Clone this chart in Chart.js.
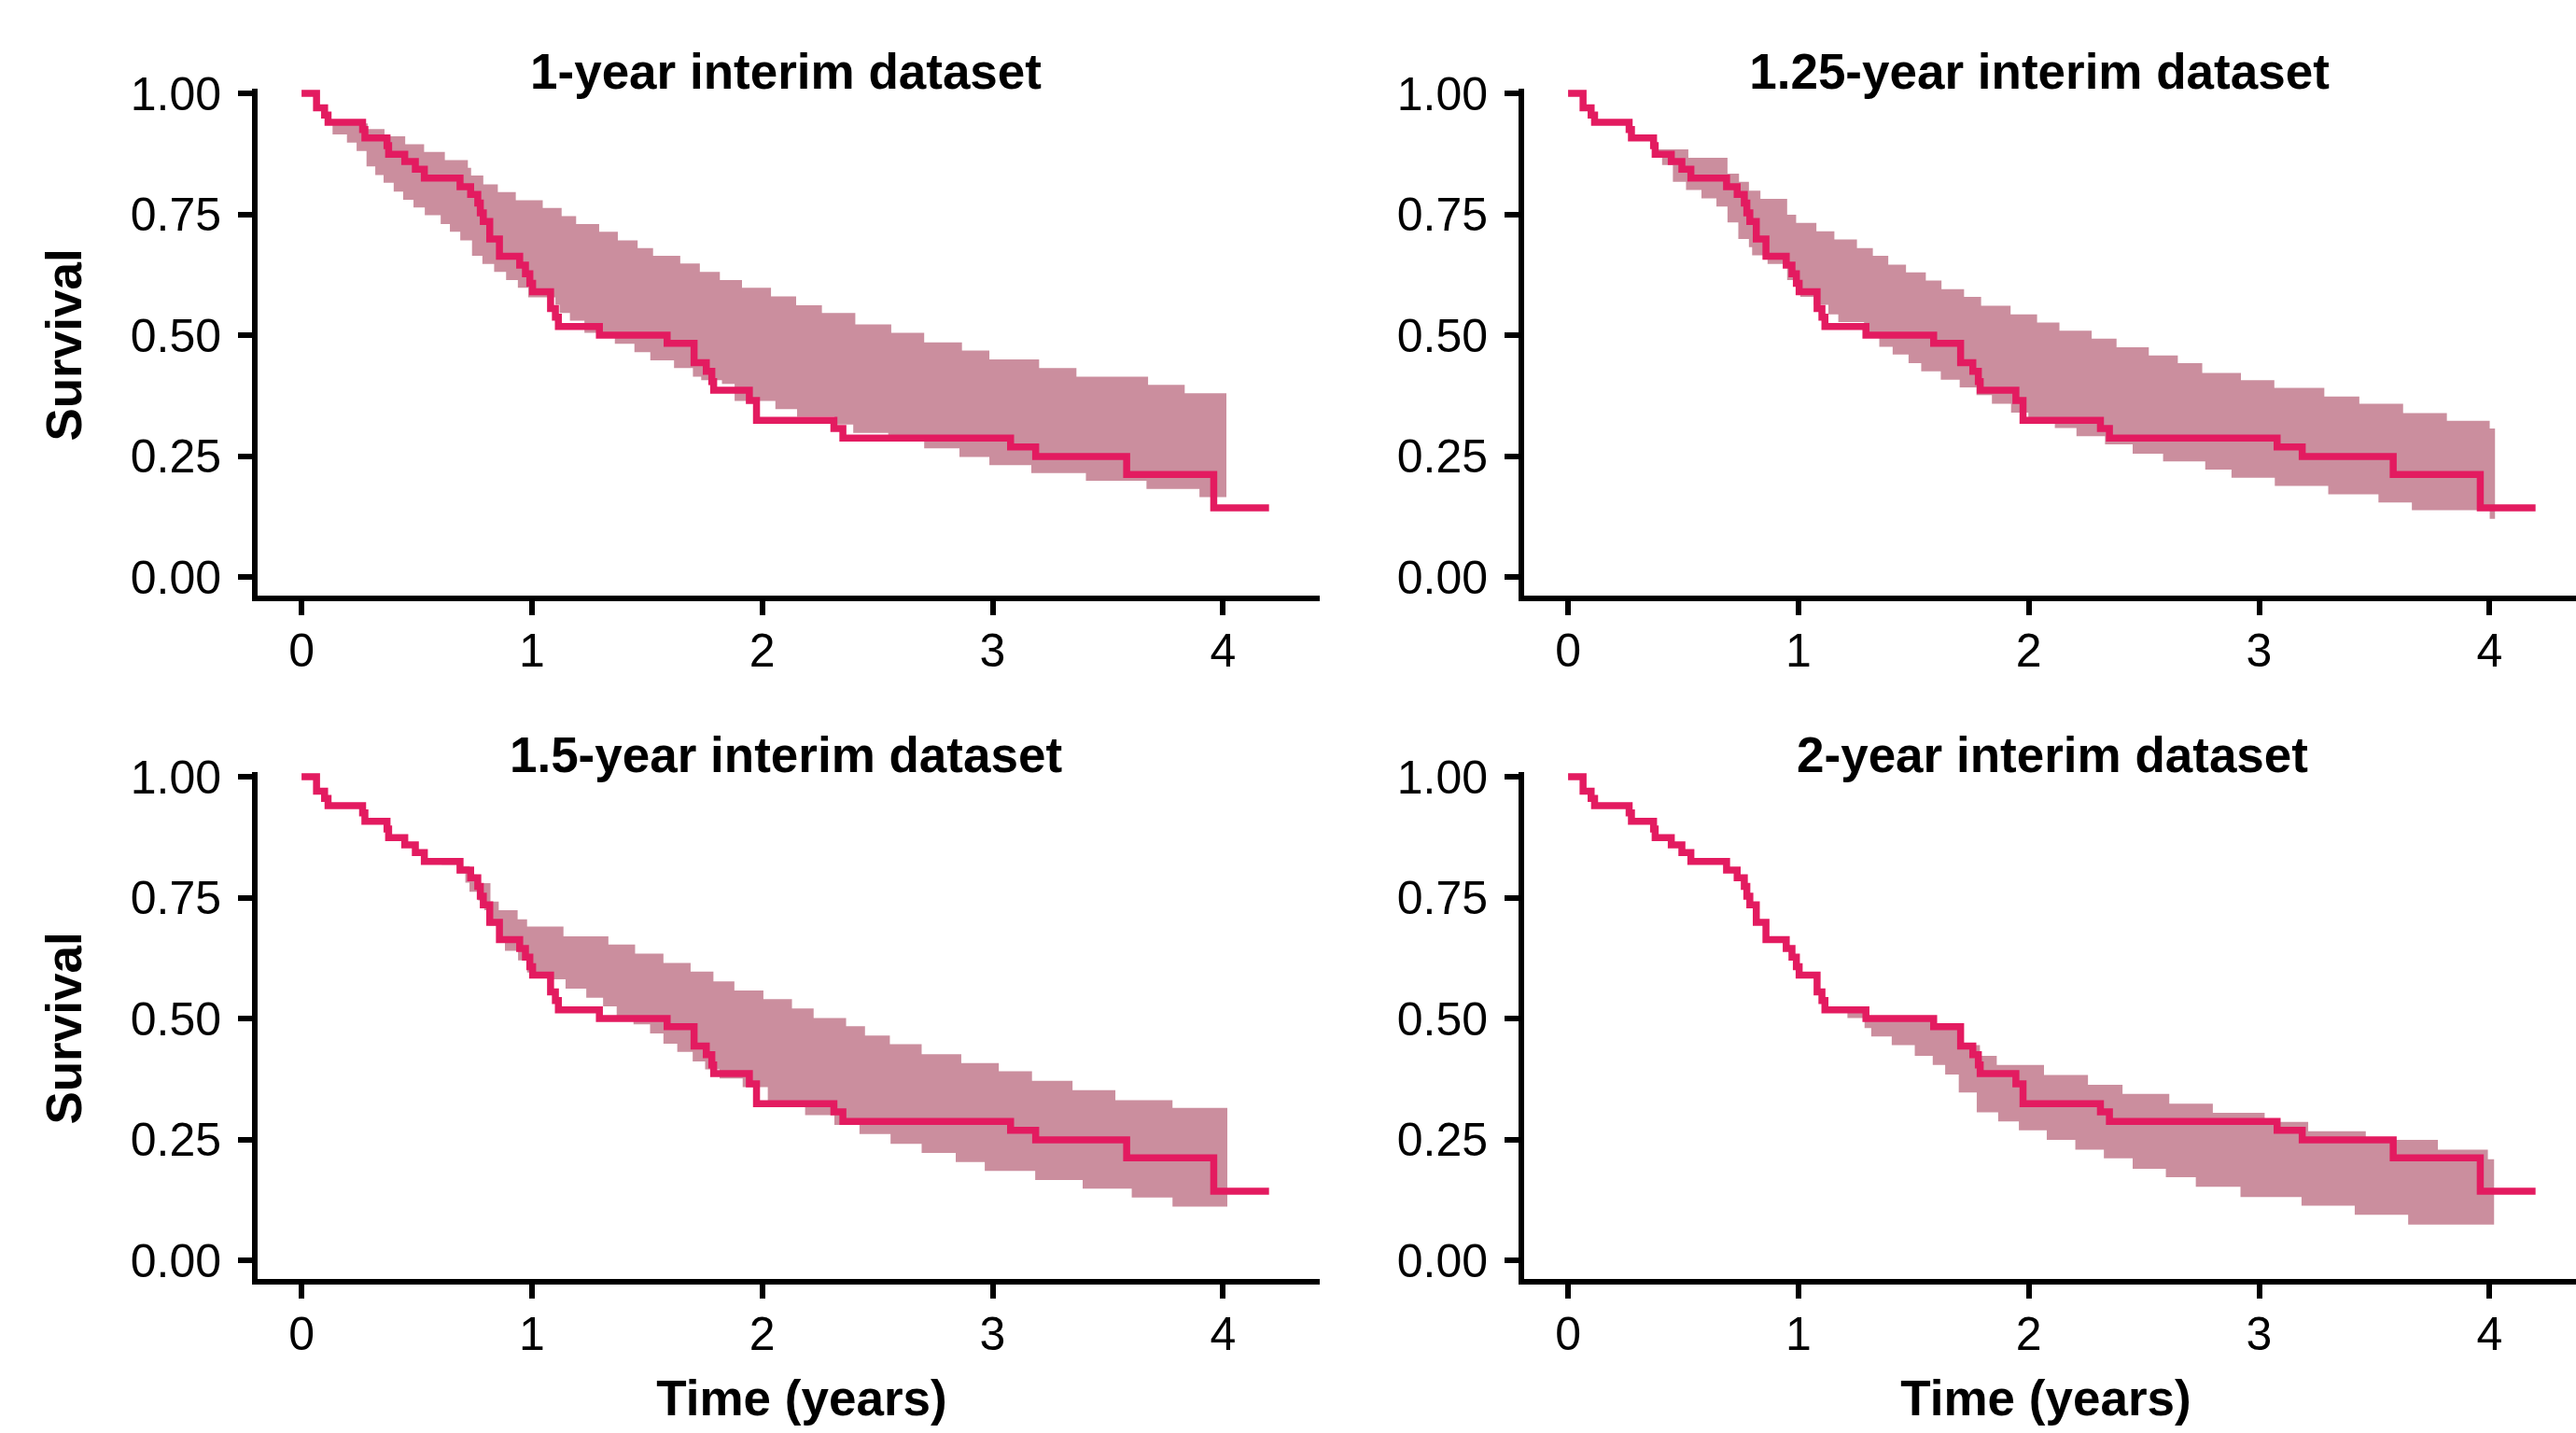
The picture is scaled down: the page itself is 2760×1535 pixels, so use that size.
<!DOCTYPE html>
<html>
<head>
<meta charset="utf-8">
<script src="https://cdn.jsdelivr.net/npm/chart.js"></script>
<style>
html,body{margin:0;padding:0;background:#ffffff;overflow:hidden;width:2760px;height:1535px;}
canvas{position:absolute;}
</style>
</head>
<body>
<canvas id="c0"></canvas>
<canvas id="c1"></canvas>
<canvas id="c2"></canvas>
<canvas id="c3"></canvas>
<script>
// ---------------- DATA ----------------
const panelTitles = ["1-year interim dataset", "1.25-year interim dataset", "1.5-year interim dataset", "2-year interim dataset"];
const xTicks = [0, 1, 2, 3, 4];
const yTicks = [0, 0.25, 0.5, 0.75, 1];
const xAxisTitle = "Time (years)";
const yAxisTitle = "Survival";

// observed Kaplan-Meier curve (same in every panel)
const kmTime = [0, 0.065, 0.10, 0.115, 0.265, 0.275, 0.371, 0.378, 0.448, 0.494, 0.533, 0.688, 0.734, 0.765, 0.776, 0.789, 0.817, 0.859, 0.947, 0.972, 0.991, 1.003, 1.081, 1.102, 1.115, 1.293, 1.587, 1.704, 1.757, 1.781, 1.789, 1.944, 1.975, 2.311, 2.35, 3.078, 3.187, 3.582, 3.96, 4.2];
const kmSurv = [1.0, 0.97, 0.955, 0.94, 0.925, 0.908, 0.892, 0.874, 0.859, 0.843, 0.825, 0.807, 0.791, 0.773, 0.753, 0.735, 0.699, 0.663, 0.645, 0.627, 0.607, 0.590, 0.555, 0.537, 0.518, 0.500, 0.483, 0.443, 0.425, 0.404, 0.386, 0.365, 0.324, 0.307, 0.287, 0.269, 0.249, 0.212, 0.143, 0.143];

// prediction bands: upper / lower step functions
const p1UpT = [0.134, 0.287, 0.36, 0.45, 0.532, 0.622, 0.722, 0.736, 0.789, 0.852, 0.930, 1.047, 1.129, 1.192, 1.292, 1.373, 1.459, 1.526, 1.644, 1.729, 1.816, 1.912, 2.038, 2.147, 2.259, 2.404, 2.560, 2.703, 2.867, 2.986, 3.202, 3.364, 3.675, 3.834, 4.015];
const p1UpS = [0.938, 0.926, 0.911, 0.895, 0.879, 0.862, 0.846, 0.830, 0.812, 0.796, 0.779, 0.763, 0.746, 0.730, 0.714, 0.696, 0.680, 0.664, 0.648, 0.631, 0.614, 0.598, 0.580, 0.562, 0.546, 0.522, 0.505, 0.485, 0.468, 0.450, 0.432, 0.414, 0.397, 0.380, 0.380];
const p1LoT = [0.134, 0.197, 0.239, 0.282, 0.320, 0.356, 0.400, 0.441, 0.486, 0.535, 0.604, 0.644, 0.689, 0.740, 0.785, 0.836, 0.888, 0.939, 0.984, 1.102, 1.120, 1.165, 1.228, 1.360, 1.445, 1.514, 1.617, 1.699, 1.735, 1.825, 1.880, 2.057, 2.151, 2.314, 2.395, 2.547, 2.703, 2.856, 2.986, 3.168, 3.405, 3.668, 3.898, 4.015];
const p1LoS = [0.915, 0.898, 0.881, 0.849, 0.831, 0.815, 0.797, 0.780, 0.764, 0.748, 0.730, 0.714, 0.696, 0.664, 0.647, 0.631, 0.614, 0.598, 0.578, 0.563, 0.546, 0.530, 0.505, 0.482, 0.465, 0.448, 0.432, 0.414, 0.407, 0.399, 0.364, 0.347, 0.331, 0.315, 0.298, 0.285, 0.266, 0.248, 0.231, 0.215, 0.199, 0.182, 0.165, 0.165];

const p2UpT = [0.284, 0.37, 0.522, 0.692, 0.742, 0.785, 0.835, 0.951, 0.990, 1.078, 1.156, 1.254, 1.323, 1.390, 1.467, 1.553, 1.621, 1.719, 1.793, 1.921, 2.036, 2.133, 2.273, 2.381, 2.521, 2.647, 2.753, 2.921, 3.066, 3.283, 3.435, 3.625, 3.815, 4.001, 4.025];
const p2UpS = [0.913, 0.884, 0.867, 0.834, 0.817, 0.799, 0.782, 0.749, 0.732, 0.715, 0.698, 0.680, 0.664, 0.646, 0.630, 0.613, 0.595, 0.579, 0.561, 0.543, 0.526, 0.509, 0.493, 0.475, 0.458, 0.442, 0.422, 0.407, 0.391, 0.373, 0.358, 0.339, 0.323, 0.307, 0.307];
const p2LoT = [0.284, 0.385, 0.408, 0.455, 0.512, 0.579, 0.644, 0.692, 0.739, 0.785, 0.799, 0.866, 0.951, 1.008, 1.067, 1.130, 1.173, 1.285, 1.351, 1.409, 1.478, 1.533, 1.618, 1.700, 1.773, 1.840, 1.923, 1.998, 2.113, 2.207, 2.331, 2.451, 2.583, 2.766, 2.880, 3.068, 3.300, 3.518, 3.663, 4.001, 4.025];
const p2LoS = [0.902, 0.871, 0.852, 0.817, 0.800, 0.783, 0.766, 0.733, 0.699, 0.682, 0.665, 0.647, 0.614, 0.579, 0.563, 0.543, 0.527, 0.505, 0.476, 0.460, 0.442, 0.425, 0.408, 0.392, 0.376, 0.358, 0.340, 0.324, 0.308, 0.291, 0.274, 0.255, 0.239, 0.222, 0.205, 0.188, 0.171, 0.154, 0.138, 0.120, 0.120];

const p3UpT = [0.608, 0.69, 0.73, 0.76, 0.820, 0.856, 0.938, 0.979, 1.137, 1.332, 1.448, 1.571, 1.689, 1.788, 1.879, 2.005, 2.129, 2.223, 2.364, 2.446, 2.554, 2.692, 2.864, 3.027, 3.171, 3.347, 3.533, 3.781, 4.019];
const p3UpS = [0.827, 0.815, 0.798, 0.780, 0.742, 0.724, 0.705, 0.690, 0.670, 0.653, 0.634, 0.615, 0.597, 0.577, 0.558, 0.540, 0.521, 0.501, 0.484, 0.465, 0.447, 0.426, 0.408, 0.391, 0.371, 0.352, 0.331, 0.315, 0.315];
const p3LoT = [0.608, 0.675, 0.711, 0.729, 0.766, 0.793, 0.811, 0.847, 0.883, 0.94, 0.979, 1.082, 1.146, 1.236, 1.309, 1.368, 1.441, 1.513, 1.571, 1.631, 1.698, 1.752, 1.815, 1.915, 2.024, 2.186, 2.313, 2.422, 2.557, 2.692, 2.840, 2.966, 3.185, 3.391, 3.604, 3.781, 4.019];
const p3LoS = [0.818, 0.800, 0.781, 0.762, 0.744, 0.724, 0.692, 0.662, 0.640, 0.620, 0.595, 0.581, 0.562, 0.543, 0.525, 0.506, 0.488, 0.469, 0.448, 0.431, 0.411, 0.395, 0.376, 0.358, 0.320, 0.300, 0.280, 0.261, 0.241, 0.222, 0.203, 0.185, 0.166, 0.148, 0.130, 0.111, 0.111];

const p4UpT = [1.212, 1.293, 1.587, 1.70, 1.788, 1.861, 2.066, 2.257, 2.407, 2.610, 2.799, 3.024, 3.213, 3.463, 3.776, 3.993, 4.021];
const p4UpS = [0.515, 0.501, 0.483, 0.445, 0.423, 0.404, 0.383, 0.363, 0.344, 0.324, 0.305, 0.286, 0.267, 0.249, 0.229, 0.209, 0.209];
const p4LoT = [1.212, 1.287, 1.316, 1.405, 1.505, 1.583, 1.637, 1.696, 1.774, 1.867, 1.957, 2.078, 2.202, 2.326, 2.451, 2.595, 2.725, 2.919, 3.184, 3.415, 3.647, 4.021];
const p4LoS = [0.501, 0.480, 0.463, 0.445, 0.423, 0.404, 0.384, 0.347, 0.306, 0.287, 0.269, 0.249, 0.229, 0.211, 0.189, 0.172, 0.152, 0.131, 0.113, 0.094, 0.074, 0.074];

// ---------------- STYLE / LAYOUT ----------------
const RED = "rgb(227,27,96)";
const BAND = "rgb(203,142,158)";
const FONT = "'Liberation Sans', Arial, Helvetica, sans-serif";
const W = 1425, H = 803;
const AREA_LEFT = 273, AREA_RIGHT = 1411, AREA_TOP = 98, AREA_BOTTOM = 641;
const canvasPos = [[0, 0], [1357, 0], [0, 732], [1357, 732]];
const titleShift = [0, -14, 0, 0];
const xTitleShift = [0, 0, 17, -7];
const bands = [
  {upT: p1UpT, upS: p1UpS, loT: p1LoT, loS: p1LoS},
  {upT: p2UpT, upS: p2UpS, loT: p2LoT, loS: p2LoS},
  {upT: p3UpT, upS: p3UpS, loT: p3LoT, loS: p3LoS},
  {upT: p4UpT, upS: p4UpS, loT: p4LoT, loS: p4LoS}
];

Chart.defaults.font.family = FONT;
Chart.defaults.color = "#000";

function pts(ts, ss) { return ts.map((t, i) => ({x: t, y: ss[i]})); }

function shiftDraw(obj, method, dx) {
  if (!obj || obj["_shifted_" + method] || !dx) return;
  const orig = obj[method].bind(obj);
  obj[method] = function () {
    const ctx = this.ctx;
    ctx.save(); ctx.translate(dx, 0); orig.apply(null, arguments); ctx.restore();
  };
  obj["_shifted_" + method] = true;
}

function makeChart(idx) {
  const cv = document.getElementById("c" + idx);
  cv.width = W; cv.height = H;
  cv.style.left = canvasPos[idx][0] + "px";
  cv.style.top = canvasPos[idx][1] + "px";
  const b = bands[idx];
  const showY = idx % 2 === 0;
  const showX = idx >= 2;
  const axisCommon = {
    grid: {display: true, drawOnChartArea: false, drawTicks: true, tickLength: 18, tickWidth: 6, tickColor: "#000", lineWidth: 6, color: "#000"},
    border: {display: true, width: 6, color: "#000"}
  };
  const chart = new Chart(cv, {
    type: "line",
    data: {
      datasets: [
        {data: pts(kmTime, kmSurv), stepped: "before", borderColor: RED, borderWidth: 7.5, pointRadius: 0, fill: false, clip: false, borderCapStyle: "butt", borderJoinStyle: "miter"},
        {data: pts(b.loT, b.loS), stepped: "before", borderColor: "rgba(0,0,0,0)", borderWidth: 0, pointRadius: 0, fill: false},
        {data: pts(b.upT, b.upS), stepped: "before", borderColor: "rgba(0,0,0,0)", borderWidth: 0, pointRadius: 0, fill: "-1", backgroundColor: BAND}
      ]
    },
    options: {
      responsive: false, animation: false, devicePixelRatio: 1,
      layout: {padding: {left: 0, right: W - AREA_RIGHT, top: 0, bottom: 0}},
      plugins: {
        legend: {display: false},
        tooltip: {enabled: false},
        title: {display: true, text: panelTitles[idx], fullSize: false, color: "#000",
                font: {size: 53, weight: "bold", lineHeight: 1}, padding: {top: 54, bottom: AREA_TOP - 54 - 53}}
      },
      scales: {
        x: Object.assign({}, axisCommon, {
          type: "linear", position: "bottom", min: -0.203, max: 4.408,
          afterFit: s => { s.height = H - AREA_BOTTOM; shiftDraw(s, "drawTitle", xTitleShift[idx]); },
          afterBuildTicks: s => { s.ticks = xTicks.map(v => ({value: v})); },
          ticks: {font: {size: 50}, color: "#000", padding: 11, maxRotation: 0, autoSkip: false, callback: v => String(v)},
          title: {display: showX, text: xAxisTitle, color: "#000", font: {size: 53, weight: "bold", lineHeight: 1.2}, padding: {top: 0, bottom: 2}}
        }),
        y: Object.assign({}, axisCommon, {
          type: "linear", position: "left", min: -0.0444, max: 1.0039,
          afterFit: s => { s.width = AREA_LEFT; },
          afterBuildTicks: s => { s.ticks = yTicks.map(v => ({value: v})); },
          ticks: {font: {size: 50}, color: "#000", padding: 18, labelOffset: 4, autoSkip: false, callback: v => Number(v).toFixed(2)},
          title: {display: showY, text: yAxisTitle, color: "#000", font: {size: 53, weight: "bold", lineHeight: 1.2}, padding: {top: 41, bottom: 0}}
        })
      }
    }
  });
  if (titleShift[idx] && chart.titleBlock) {
    shiftDraw(chart.titleBlock, "draw", titleShift[idx]);
    chart.draw();
  }
}
for (let i = 0; i < 4; i++) makeChart(i);
</script>
</body>
</html>
